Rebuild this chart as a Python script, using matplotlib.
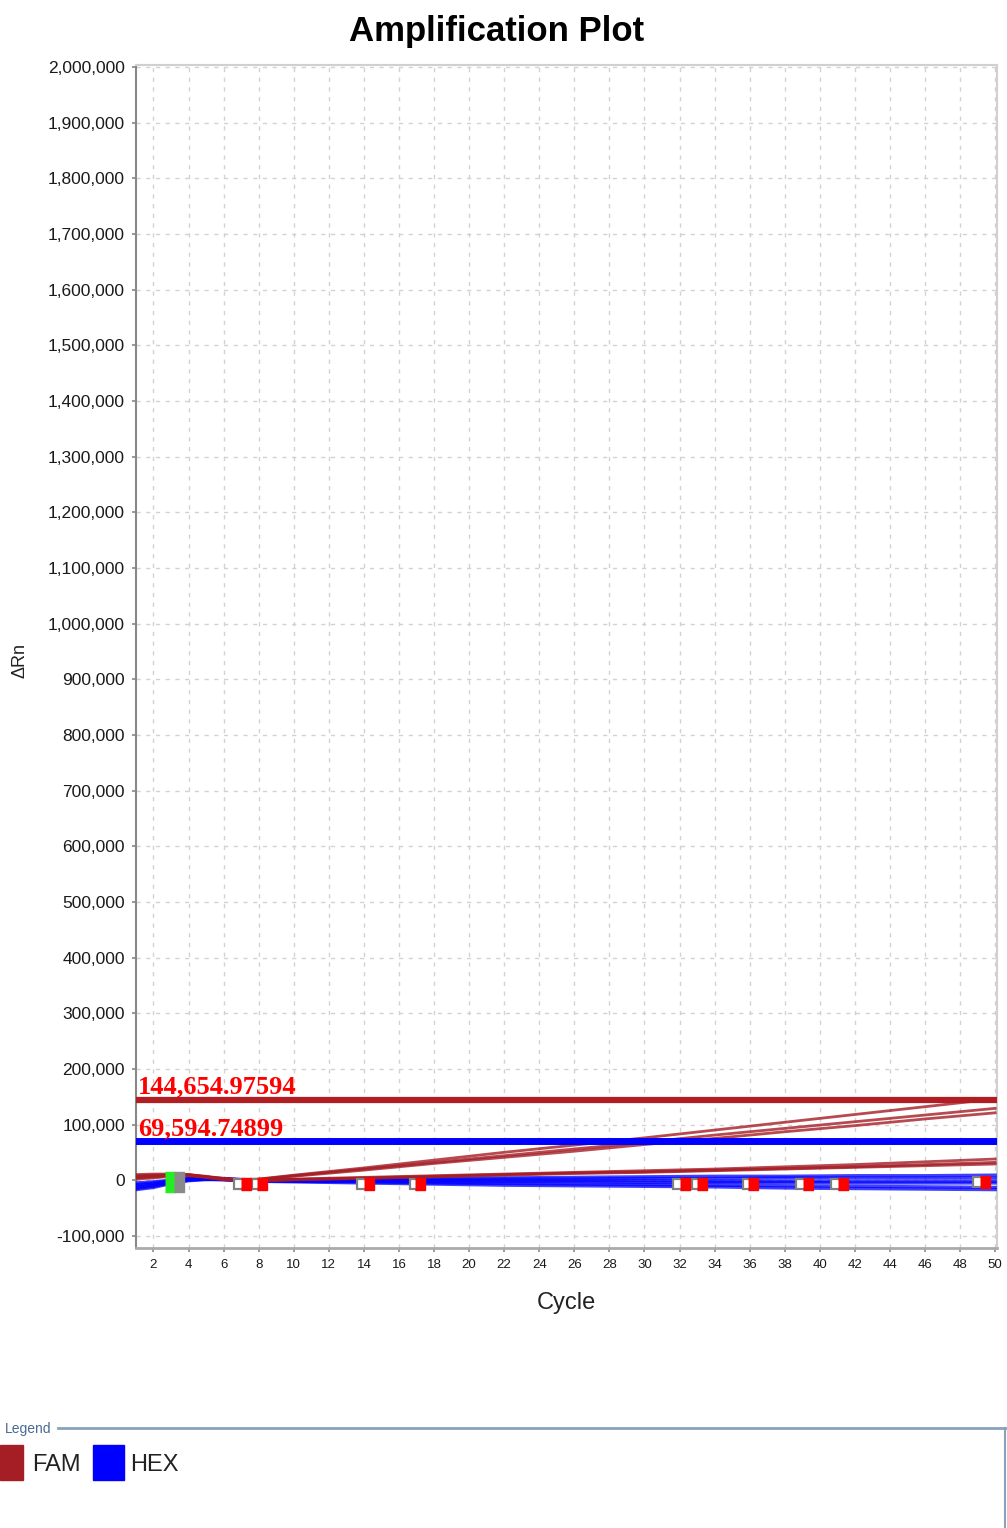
import matplotlib
matplotlib.use('Agg')
import matplotlib.pyplot as plt
from matplotlib.patches import Rectangle
from matplotlib.ticker import FuncFormatter

plt.rcParams['font.family'] = ['Liberation Sans Narrow', 'Liberation Sans', 'DejaVu Sans']

# cycles at which the curves were read
cycles = [1, 2, 3, 4, 5, 6, 7, 8, 10, 14, 18, 22, 26, 30, 34, 38, 42, 46, 50]

fam_curves = [
    [8000, 9000, 10000, 10000, 7000, 3000, 1000, 2000, 9000, 22000, 36000, 50000, 63000, 76000, 90000, 104000, 118000, 132000, 146000],
    [6000, 8000, 9000, 9500, 6000, 3000, 800, 1500, 8000, 20000, 32000, 44000, 56000, 68000, 81000, 93000, 105000, 117000, 129000],
    [4000, 6000, 8000, 9000, 6000, 2000, 500, 1000, 7000, 18000, 30000, 41000, 52000, 64000, 75000, 87000, 98000, 110000, 121000],
    [10000, 11000, 11000, 10000, 6000, 2000, 0, 0, 2000, 5000, 8000, 11000, 14000, 17000, 20000, 24000, 28000, 33000, 38000],
    [5000, 7000, 9000, 9000, 5000, 1000, -1000, -1000, 1000, 4000, 7000, 10000, 13000, 15000, 18000, 21000, 24000, 28000, 32000],
    [2000, 4000, 7000, 8000, 5000, 1000, -1000, -1500, 500, 3000, 6000, 9000, 12000, 14000, 17000, 20000, 23000, 26000, 29000],
]

hex_curves = [
    [-5000, -3000, 0, 4000, 4000, 3000, 1000, 0, 1000, 2000, 3000, 4000, 5000, 6000, 7000, 7000, 8000, 8000, 9000],
    [-8000, -5000, -1000, 3000, 3000, 2000, 1000, 0, 0, 1000, 1000, 2000, 2000, 3000, 3000, 4000, 4000, 4000, 4000],
    [-10000, -7000, -3000, 2000, 3000, 2000, 0, -1000, -1000, -1000, -1000, -1000, -1000, -1000, -2000, -2000, -2000, -2000, -2000],
    [-13000, -9000, -4000, 1000, 2000, 1000, 0, -1000, -2000, -2000, -3000, -3000, -3000, -4000, -4000, -4000, -5000, -5000, -5000],
    [-15000, -11000, -5000, 0, 2000, 1000, 0, -1000, -2000, -3000, -5000, -6000, -7000, -8000, -9000, -10000, -11000, -12000, -13000],
    [-17000, -13000, -6000, -1000, 1000, 1000, -1000, -2000, -3000, -5000, -7000, -9000, -10000, -11000, -12000, -14000, -15000, -16000, -17000],
]

fam_threshold = 144654.97594
hex_threshold = 69594.74899

# baseline start / end markers
start_x = [2.95]
start_y = [-4000]
start_end_x = [3.45]
start_end_y = [-4000]
end_open_x = [6.9, 7.9, 13.9, 16.9, 31.9, 33.0, 35.9, 38.9, 40.9, 49.0]
end_open_y = [-6000, -6000, -6000, -6000, -7000, -6000, -6000, -6000, -6000, -4000]
end_x = [7.3, 8.2, 14.3, 17.2, 32.3, 33.3, 36.2, 39.3, 41.3, 49.4]
end_y = [-6000, -6000, -6000, -6000, -7000, -6000, -6000, -6000, -6000, -4000]

x_ticks = list(range(2, 51, 2))
y_ticks = list(range(-100000, 2000001, 100000))

FAM_COLOR = '#a51d25'
FAM_THR_COLOR = '#b01e23'
HEX_COLOR = '#0000ff'

fig = plt.figure(figsize=(10.07, 15.28), dpi=100)
ax = fig.add_axes([0.135, 0.1832, 0.855, 0.7743])

for c in hex_curves:
    ax.plot(cycles, c, color=HEX_COLOR, lw=2.4, alpha=0.75, zorder=3)
for c in fam_curves:
    ax.plot(cycles, c, color=FAM_COLOR, lw=2, alpha=0.8, zorder=4)

ax.axhline(fam_threshold, color=FAM_THR_COLOR, lw=4.5, zorder=5)
ax.axhline(hex_threshold, color=HEX_COLOR, lw=5, zorder=5)
for thr in (fam_threshold, hex_threshold):
    ax.annotate(f'{thr:,.5f}', xy=(1.1, thr), xytext=(0, 4.5), textcoords='offset points',
                va='baseline', ha='left', color='#ff0000', fontsize=19, fontweight='bold',
                family=['Liberation Serif', 'DejaVu Serif'], zorder=6)

tall = [(-1, -2), (1, -2), (1, 2), (-1, 2)]
box = [(-5, -6), (5, -6), (5, 6), (-5, 6)]
ax.plot(start_x, start_y, ls='none', marker=tall, ms=15, color='#22ee22', zorder=7)
ax.plot(start_end_x, start_end_y, ls='none', marker=tall, ms=15, color='#8a8a8a', zorder=7)
ax.plot(end_open_x, end_open_y, ls='none', marker='s', ms=7, mfc='white', mec='#808080',
        mew=1.6, zorder=7)
ax.plot(end_x, end_y, ls='none', marker=box, ms=9, color='#ff0000', zorder=8)

ax.set_xlim(1, 50.1)
ax.set_ylim(-122000, 2003600)
ax.set_xticks(x_ticks)
ax.set_yticks(y_ticks)
ax.yaxis.set_major_formatter(FuncFormatter(lambda v, p: f'{v:,.0f}'))
ax.tick_params(axis='y', length=3, width=1.2, color='#888888', pad=5, labelsize=12.5,
               labelcolor='#1a1a1a')
ax.tick_params(axis='x', length=3, width=1.2, color='#888888', pad=5, labelsize=9.5,
               labelcolor='#1a1a1a')
ax.grid(True, color='#d2d2d2', ls=(0, (3, 4)), lw=1)
ax.set_axisbelow(True)
for side in ('top', 'right'):
    ax.spines[side].set_color('#d0d0d0')
    ax.spines[side].set_linewidth(1.5)
ax.spines['left'].set_color('#888888')
ax.spines['left'].set_linewidth(1.5)
ax.spines['bottom'].set_color('#aaaaaa')
ax.spines['bottom'].set_linewidth(2)

fig.text(497 / 1007, 1 - 32 / 1528, 'Amplification Plot', ha='center', va='center',
         fontsize=25, fontweight='bold', family=['Liberation Sans', 'DejaVu Sans'])
fig.text(20 / 1007, 1 - 660 / 1528, 'ΔRn', rotation=90, ha='center', va='center',
         fontsize=13, color='#222222')
fig.text(566 / 1007, 1 - 1303 / 1528, 'Cycle', ha='center', va='center', fontsize=17,
         color='#222222')

# legend panel drawn in pixel coordinates
lax = fig.add_axes([0, 0, 1, 1])
lax.set_xlim(0, 1007)
lax.set_ylim(1528, 0)
lax.axis('off')
lax.text(5, 1429, 'Legend', va='center', ha='left', fontsize=10, color='#4a6a94')
lax.plot([58, 1007], [1428, 1428], color='#8aa2bc', lw=2)
lax.plot([1005, 1005], [1428, 1528], color='#8aa2bc', lw=1.5)
lax.add_patch(Rectangle((0, 1445), 23, 35, color=FAM_COLOR))
lax.text(32, 1465, 'FAM', va='center', ha='left', fontsize=17, color='#222222')
lax.add_patch(Rectangle((93, 1445), 31, 35, color=HEX_COLOR))
lax.text(130, 1465, 'HEX', va='center', ha='left', fontsize=17, color='#222222')

fig.savefig('out.png', dpi=100)
